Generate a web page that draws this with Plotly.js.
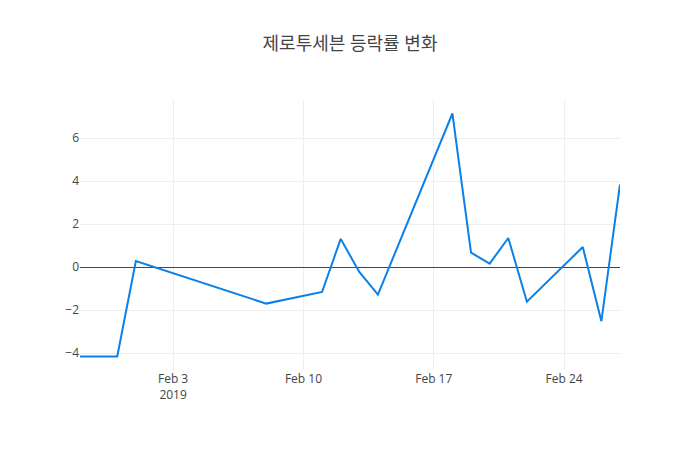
<!DOCTYPE html>
<html>
<head>
<meta charset="utf-8">
<script src="https://cdn.plot.ly/plotly-3.0.1.min.js"></script>
<style>html,body{margin:0;padding:0;background:#fff;}#chart{width:700px;height:450px;}</style>
</head>
<body>
<div id="chart"></div>
<script>
const chartTitle = '제로투세븐 등락률 변화';
const dates = ['2019-01-29','2019-01-31','2019-02-01','2019-02-08','2019-02-11','2019-02-12','2019-02-13','2019-02-14','2019-02-18','2019-02-19','2019-02-20','2019-02-21','2019-02-22','2019-02-25','2019-02-26','2019-02-27'];
const changeRates = [-4.15,-4.15,0.29,-1.69,-1.15,1.32,-0.22,-1.27,7.15,0.68,0.17,1.36,-1.6,0.94,-2.51,3.85];

Plotly.newPlot('chart', [{
  x: dates,
  y: changeRates,
  type: 'scatter',
  mode: 'lines',
  line: {color: '#0a80e8', width: 2}
}], {
  width: 700,
  height: 450,
  title: {text: chartTitle, font: {family: '"Open Sans", "Noto Sans CJK KR", sans-serif', size: 18, color: '#444'}},
  font: {family: '"Open Sans", "Noto Sans CJK KR", sans-serif'},
  xaxis: {type: 'date', gridcolor: '#eee'},
  yaxis: {zeroline: true, zerolinecolor: '#444', zerolinewidth: 1, gridcolor: '#eee'},
  showlegend: false,
  paper_bgcolor: '#fff',
  plot_bgcolor: '#fff'
}, {displayModeBar: false});
</script>
</body>
</html>
